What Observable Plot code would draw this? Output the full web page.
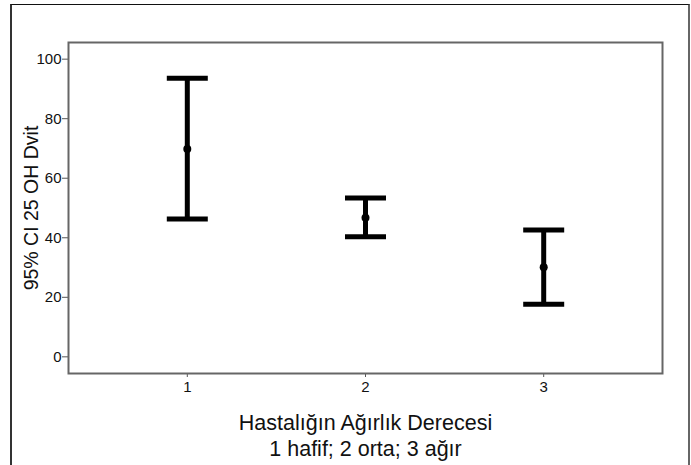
<!DOCTYPE html>
<html>
<head>
<meta charset="utf-8">
<script src="https://cdn.jsdelivr.net/npm/d3@7"></script>
<script src="https://cdn.jsdelivr.net/npm/@observablehq/plot@0.6"></script>
<style>
  html, body { margin: 0; padding: 0; background: #fff; }
  #wrap { position: relative; width: 691px; height: 465px; overflow: hidden; }
  #border { position: absolute; left: 10px; top: 4px; width: 676px; height: 480px;
    border-top: 1px solid #111; border-left: 2px solid #333; border-right: 2px solid #666;
    pointer-events: none; }
</style>
</head>
<body>
<div id="wrap"><div id="chart"></div><div id="border"></div></div>
<script>
const groups = [1, 2, 3];
const means = [69.8, 46.7, 30.1];
const lower = [46.3, 40.3, 17.7];
const upper = [93.6, 53.4, 42.6];
const yTicks = [0, 20, 40, 60, 80, 100];
const xTicks = [1, 2, 3];
const yTitle = "95% CI 25 OH Dvit";
const xTitleLines = ["Hastalığın Ağırlık Derecesi", "1 hafif; 2 orta; 3 ağır"];

const data = groups.map((g, i) => ({g, mean: means[i], lo: lower[i], hi: upper[i]}));

const cap = {
  draw(context, size) {
    const h = Math.sqrt(size / Math.PI);
    context.moveTo(-h, 0);
    context.lineTo(h, 0);
  }
};

const chart = Plot.plot({
  width: 691,
  height: 465,
  marginLeft: 68,
  marginRight: 29,
  marginTop: 42,
  marginBottom: 92,
  style: {fontFamily: "'Liberation Sans', Arial, Helvetica, sans-serif", background: "white", color: "#111"},
  x: {type: "linear", domain: [1/3, 11/3]},
  y: {domain: [-5.6, 105.6]},
  marks: [
    Plot.axisY(yTicks, {tickSize: 6, label: null, stroke: "#555", tickFormat: () => ""}),
    Plot.axisX(xTicks, {tickSize: 4, label: null, stroke: "#555", tickFormat: () => ""}),
    Plot.text(yTicks, {y: d => d, text: d => String(d), frameAnchor: "left", textAnchor: "end", dx: -7, fontSize: 15, fill: "#111"}),
    Plot.text(xTicks, {x: d => d, text: d => String(d), frameAnchor: "bottom", lineAnchor: "top", dy: 8, fontSize: 15, fill: "#111"}),
    Plot.frame({stroke: "#666", strokeWidth: 2}),
    Plot.ruleX(data, {x: "g", y1: "lo", y2: "hi", stroke: "#000", strokeWidth: 5}),
    Plot.dot(data, {x: "g", y: "lo", symbol: cap, r: 20.5, stroke: "#000", strokeWidth: 5, fill: "none"}),
    Plot.dot(data, {x: "g", y: "hi", symbol: cap, r: 20.5, stroke: "#000", strokeWidth: 5, fill: "none"}),
    Plot.dot(data, {x: "g", y: "mean", r: 4, fill: "#000", stroke: "none"}),
    Plot.text([yTitle], {text: d => d, frameAnchor: "left", textAnchor: "middle", lineAnchor: "middle", rotate: -90, dx: -37, fontSize: 19.5, fill: "#111"}),
    Plot.text([xTitleLines.join("\n")], {text: d => d, frameAnchor: "bottom", textAnchor: "middle", lineAnchor: "top", dy: 38, fontSize: 21.5, lineHeight: 1.21, fill: "#111"})
  ]
});
document.getElementById("chart").appendChild(chart);
</script>
</body>
</html>
